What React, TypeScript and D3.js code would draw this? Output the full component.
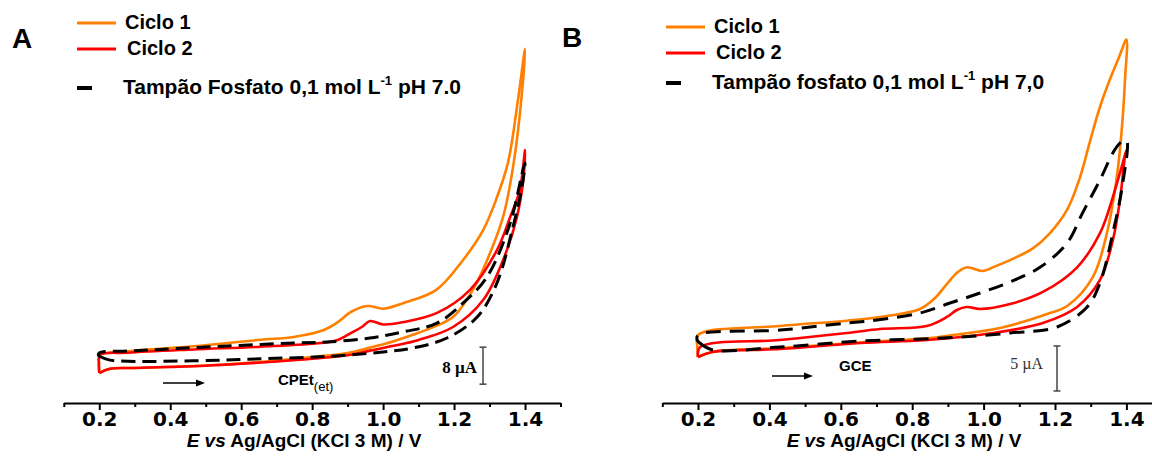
import React, { useEffect, useRef } from 'react';
import * as d3 from 'd3';

type Pt = [number, number]; // [E / V, I / µA]

// ---- Panel A: CPEt(et) ----
const cpeCiclo1: Pt[] = [
  [0.2, 1.51], [0.23, 2.45], [0.3, 2.6], [0.4, 2.85], [0.5, 3.15], [0.6, 3.6], [0.7, 4.2],
  [0.8, 4.95], [0.9, 5.85], [0.963, 7.0], [1.03, 8.4], [1.1, 10.2], [1.15, 11.7], [1.197, 13.6],
  [1.253, 19.5], [1.293, 25.9], [1.338, 35.2], [1.368, 46.9], [1.39, 61], [1.4, 71.6],
  [1.38, 60.5], [1.352, 47], [1.318, 38.9], [1.282, 32.4], [1.225, 25.9], [1.15, 19.5],
  [1.056, 16.6], [1.0, 15.4], [0.956, 16.0], [0.909, 14.7], [0.872, 12.5], [0.833, 10.8],
  [0.748, 9.3], [0.655, 8.7], [0.466, 7.3], [0.279, 6.2], [0.202, 5.4], [0.199, 3.5], [0.2, 1.51],
];
const cpeCiclo2: Pt[] = [
  [0.2, 1.51], [0.23, 2.45], [0.3, 2.6], [0.4, 2.82], [0.5, 3.08], [0.6, 3.5], [0.7, 4.0],
  [0.8, 4.6], [0.9, 5.35], [0.963, 6.35], [1.03, 7.4], [1.1, 8.65], [1.197, 11.46], [1.282, 17.3],
  [1.338, 25.9], [1.377, 35.2], [1.395, 43.2], [1.4, 49.7],
  [1.385, 41], [1.358, 35.2], [1.321, 28.1], [1.245, 19.5], [1.152, 14.5], [1.056, 12.5],
  [1.0, 12.0], [0.963, 12.76], [0.94, 11.46], [0.91, 10.2], [0.872, 8.65], [0.824, 8.0],
  [0.655, 7.2], [0.466, 6.6], [0.279, 5.9], [0.202, 5.41], [0.199, 3.5], [0.2, 1.51],
];
const cpeTampao: Pt[] = [
  [0.205, 4.97], [0.23, 4.3], [0.466, 4.15], [0.655, 4.6], [0.843, 5.1], [1.0, 6.05],
  [1.084, 6.92], [1.18, 9.08], [1.265, 13.6], [1.321, 21.0], [1.366, 33.1], [1.39, 41.1], [1.4, 46.9],
  [1.394, 45.4], [1.358, 33.9], [1.293, 22.3], [1.225, 16.6], [1.152, 12.3], [1.056, 10.4],
  [0.963, 9.08], [0.843, 8.22], [0.748, 8.0], [0.466, 7.0], [0.3, 6.3], [0.2, 5.84],
  [0.198, 5.3], [0.205, 4.97],
];

// ---- Panel B: GCE ----
const gceCiclo1: Pt[] = [
  [0.2, 0.33], [0.24, 0.89], [0.43, 1.33], [0.654, 1.95], [0.841, 2.4], [0.914, 2.78],
  [1.046, 3.56], [1.178, 5.11], [1.234, 6.0], [1.306, 9.22], [1.346, 14.2], [1.374, 20.6],
  [1.388, 26.1], [1.396, 31.1], [1.4, 35.6],
  [1.378, 33.5], [1.352, 31.0], [1.325, 28.0], [1.298, 24.3], [1.27, 20.3], [1.234, 16.7],
  [1.186, 14.1], [1.138, 12.4], [1.074, 11.1], [1.032, 10.4], [0.996, 9.89], [0.954, 10.3],
  [0.928, 9.78], [0.897, 8.44], [0.864, 6.89], [0.822, 5.67], [0.71, 4.78], [0.617, 4.37],
  [0.43, 3.78], [0.2, 2.78], [0.198, 1.5], [0.2, 0.33],
];
const gceCiclo2: Pt[] = [
  [0.2, 0.33], [0.24, 0.89], [0.43, 1.22], [0.654, 1.89], [0.841, 2.22], [1.026, 3.0],
  [1.166, 4.11], [1.262, 5.89], [1.326, 8.89], [1.362, 13.3], [1.382, 17.8], [1.396, 22.6], [1.4, 23.3],
  [1.362, 18.1], [1.326, 14.1], [1.262, 10.3], [1.166, 7.56], [1.074, 6.22], [0.99, 5.67],
  [0.953, 5.89], [0.925, 5.56], [0.897, 4.78], [0.841, 3.78], [0.71, 3.44], [0.617, 3.0],
  [0.43, 2.22], [0.206, 1.44], [0.2, 0.33],
];
const gceTampao: Pt[] = [
  [0.205, 1.89], [0.242, 1.11], [0.43, 1.44], [0.654, 2.1], [0.886, 2.44], [1.074, 3.0],
  [1.206, 3.67], [1.29, 5.89], [1.326, 8.56], [1.362, 14.1], [1.39, 19.7], [1.4, 24.4],
  [1.382, 24.1], [1.362, 23.0], [1.326, 20.0], [1.278, 16.4], [1.234, 13.0], [1.158, 10.3],
  [1.074, 8.67], [0.99, 7.44], [0.906, 6.33], [0.822, 5.22], [0.701, 4.44], [0.617, 4.11],
  [0.43, 3.33], [0.2, 2.78], [0.198, 2.2], [0.205, 1.89],
];

const majorTicks = [0.2, 0.4, 0.6, 0.8, 1.0, 1.2, 1.4];
const minorTicks = [0.1, 0.3, 0.5, 0.7, 0.9, 1.1, 1.3, 1.5];
const cycleLabels = ['Ciclo 1', 'Ciclo 2'];
const cycleColors = ['#FF8000', '#FF0000'];

const SANS = "'Liberation Sans', Arial, sans-serif";
const SERIF = "'Liberation Serif', 'Times New Roman', serif";

interface PanelDef {
  letter: string;
  x: d3.ScaleLinear<number, number>;
  y: d3.ScaleLinear<number, number>;
  series: Pt[][];
  dash: string;
  bufferText: string[]; // before superscript, superscript, after
  legendX: number;
  legendY: number[];
  letterPos: [number, number];
  electrode: string;
  electrodeSub?: string;
  electrodePos: [number, number];
  arrow: [number, number, number];
  bar: { x: number; from: number; size: number; label: string; bold: boolean; labelRight: number; labelY: number };
  titleX: number;
}

const panels: PanelDef[] = [
  {
    letter: 'A',
    x: d3.scaleLinear().domain([0.1, 1.5]).range([63.8, 560.5]),
    y: d3.scaleLinear().domain([0, 8]).range([380, 343]),
    series: [cpeCiclo1, cpeCiclo2, cpeTampao],
    dash: '14 7',
    bufferText: ['Tampão Fosfato 0,1 mol L', '-1', ' pH 7.0'],
    legendX: 77,
    legendY: [23, 49, 88],
    letterPos: [12, 48],
    electrode: 'CPEt',
    electrodeSub: '(et)',
    electrodePos: [278, 385],
    arrow: [163, 205, 383],
    bar: { x: 483, from: -0.9, size: 8, label: '8 µA', bold: true, labelRight: 477, labelY: 373 },
    titleX: 304,
  },
  {
    letter: 'B',
    x: d3.scaleLinear().domain([0.1, 1.5]).range([662.3, 1162.1]),
    y: d3.scaleLinear().domain([0, 5]).range([360, 315]),
    series: [gceCiclo1, gceCiclo2, gceTampao],
    dash: '15 9',
    bufferText: ['Tampão fosfato 0,1 mol L', '-1', ' pH 7,0'],
    legendX: 666,
    legendY: [27, 53, 83],
    letterPos: [562, 47],
    electrode: 'GCE',
    electrodePos: [839, 371],
    arrow: [772, 813, 376],
    bar: { x: 1057, from: -3.44, size: 5, label: '5 µA', bold: false, labelRight: 1043, labelY: 369 },
    titleX: 904,
  },
];

const AXIS_Y = 403;

function XAxis({ scale }: { scale: d3.ScaleLinear<number, number> }) {
  const ref = useRef<SVGGElement>(null);
  useEffect(() => {
    const g = d3.select(ref.current!);
    g.selectAll('*').remove();
    const minor = g.append('g').call(
      d3.axisBottom(scale).tickValues(minorTicks).tickSize(4).tickSizeOuter(0).tickFormat(() => '')
    );
    minor.select('.domain').remove();
    const major = g.append('g').call(
      d3.axisBottom(scale)
        .tickValues(majorTicks)
        .tickSize(7)
        .tickSizeOuter(0)
        .tickPadding(1.5)
        .tickFormat(d3.format('.1f'))
    );
    g.selectAll('line').attr('stroke', '#000').attr('stroke-width', 2);
    major.select('.domain').attr('stroke', '#000').attr('stroke-width', 2);
    major
      .selectAll('text')
      .attr('fill', '#000')
      .style('font-family', "'DejaVu Sans', Verdana, sans-serif")
      .style('font-weight', 'bold')
      .style('font-size', '20px');
  }, [scale]);
  return <g ref={ref} transform={`translate(0,${AXIS_Y})`} />;
}

function Panel({ p }: { p: PanelDef }) {
  const line = d3
    .line<Pt>()
    .x((d) => p.x(d[0]))
    .y((d) => p.y(d[1]))
    .curve(d3.curveCatmullRom.alpha(0.5));
  const barBottom = p.y(p.bar.from);
  const barTop = p.y(p.bar.from + p.bar.size);
  const lx = p.legendX;
  return (
    <g>
      <text x={p.letterPos[0]} y={p.letterPos[1]} fontFamily={SANS} fontWeight="bold" fontSize={28}>
        {p.letter}
      </text>

      {/* legend */}
      {cycleLabels.map((lab, i) => (
        <g key={lab}>
          <line x1={lx} x2={lx + 39} y1={p.legendY[i]} y2={p.legendY[i]} stroke={cycleColors[i]} strokeWidth={3} />
          <text x={lx + 48 + i * 2} y={p.legendY[i] + 6} fontFamily={SANS} fontWeight="bold" fontSize={20}>
            {lab}
          </text>
        </g>
      ))}
      <line x1={lx} x2={lx + 15} y1={p.legendY[2]} y2={p.legendY[2]} stroke="#000" strokeWidth={4} />
      <text x={lx + 46} y={p.legendY[2] + 6} fontFamily={SANS} fontWeight="bold" fontSize={21}>
        {p.bufferText[0]}
        <tspan fontSize={13} dy={-9}>{p.bufferText[1]}</tspan>
        <tspan dy={9}>{p.bufferText[2]}</tspan>
      </text>

      {/* voltammograms */}
      {p.series.map((s, i) => (
        <path
          key={i}
          d={line(s) ?? ''}
          fill="none"
          stroke={i < 2 ? cycleColors[i] : '#000'}
          strokeWidth={i < 2 ? 2.6 : 3}
          strokeDasharray={i < 2 ? undefined : p.dash}
          strokeLinejoin="round"
        />
      ))}

      {/* scan direction */}
      <line x1={p.arrow[0]} x2={p.arrow[1] - 7} y1={p.arrow[2]} y2={p.arrow[2]} stroke="#000" strokeWidth={1.3} />
      <path
        d={`M${p.arrow[1]},${p.arrow[2]} L${p.arrow[1] - 9},${p.arrow[2] - 3.5} L${p.arrow[1] - 9},${p.arrow[2] + 3.5} Z`}
        fill="#000"
      />

      <text x={p.electrodePos[0]} y={p.electrodePos[1]} fontFamily={SANS} fontWeight="bold" fontSize={15}>
        {p.electrode}
        {p.electrodeSub && (
          <tspan fontSize={13} dy={6} fontWeight="normal">
            {p.electrodeSub}
          </tspan>
        )}
      </text>

      {/* current scale bar */}
      <g stroke="#444" strokeWidth={1.5}>
        <line x1={p.bar.x} x2={p.bar.x} y1={barTop} y2={barBottom} />
        <line x1={p.bar.x - 3.5} x2={p.bar.x + 3.5} y1={barTop} y2={barTop} />
        <line x1={p.bar.x - 3.5} x2={p.bar.x + 3.5} y1={barBottom} y2={barBottom} />
      </g>
      <text
        x={p.bar.labelRight}
        y={p.bar.labelY}
        textAnchor="end"
        fontFamily={SERIF}
        fontWeight={p.bar.bold ? 'bold' : 'normal'}
        fontSize={p.bar.bold ? 17 : 16}
        fill={p.bar.bold ? '#000' : '#333'}
      >
        {p.bar.label}
      </text>

      <XAxis scale={p.x} />
      <text x={p.titleX} y={447} textAnchor="middle" fontFamily={SANS} fontWeight="bold" fontSize={19}>
        <tspan fontStyle="italic">E vs</tspan> Ag/AgCl (KCl 3 M) / V
      </text>
    </g>
  );
}

export default function App() {
  return (
    <svg
      width={1152}
      height={462}
      viewBox="0 0 1152 462"
      style={{ position: 'absolute', left: 0, top: 0, background: '#fff' }}
    >
      <rect width={1152} height={462} fill="#fff" />
      {panels.map((p) => (
        <Panel key={p.letter} p={p} />
      ))}
    </svg>
  );
}
